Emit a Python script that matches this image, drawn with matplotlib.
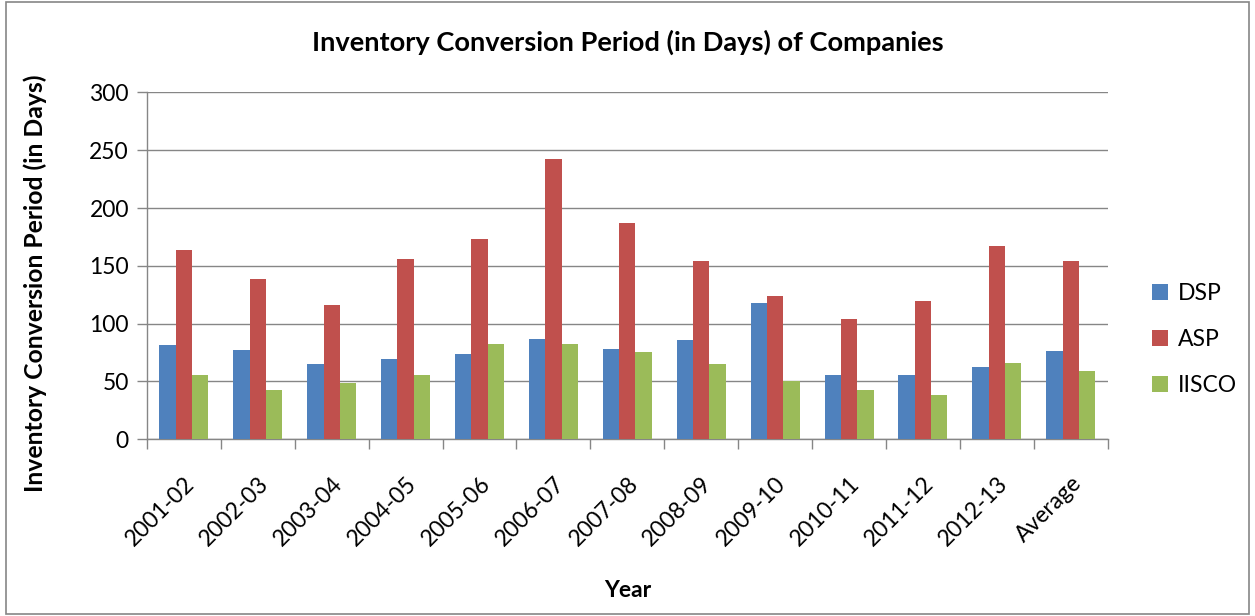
import numpy as np
import matplotlib
matplotlib.use("Agg")
import matplotlib.pyplot as plt
from matplotlib.patches import Rectangle

years = ["2001-02", "2002-03", "2003-04", "2004-05", "2005-06", "2006-07",
         "2007-08", "2008-09", "2009-10", "2010-11", "2011-12", "2012-13", "Average"]
dsp = [81.2, 77.5, 65.1, 69.1, 74.0, 86.7, 78.3, 86.1, 118.1, 55.9, 55.3, 62.5, 76.0]
asp = [164.1, 138.2, 116.3, 156.1, 173.3, 242.7, 187.2, 154.3, 124.1, 103.7, 119.2, 167.0, 153.8]
iisco = [55.9, 42.3, 48.4, 55.9, 82.6, 82.6, 75.4, 65.1, 50.7, 42.3, 38.0, 65.9, 58.7]

series = [("DSP", dsp, "#4F81BD"), ("ASP", asp, "#C0504D"), ("IISCO", iisco, "#9BBB59")]

plt.rcParams["font.family"] = ["Lato", "DejaVu Sans"]
GRID = "#868686"
FS = 16.5

fig = plt.figure(figsize=(12.55, 6.16), dpi=100)
ax = fig.add_axes([0.1171, 0.2868, 0.7655, 0.5633])

x = np.arange(len(years))
w = 0.221
for i, (name, vals, col) in enumerate(series):
    ax.bar(x + (i - 1) * w, vals, width=w, color=col, label=name, zorder=3)

ax.set_xlim(-0.5, len(years) - 0.5)
ax.set_ylim(0, 300)
ax.set_yticks(range(0, 301, 50))
ax.yaxis.grid(True, color=GRID, linewidth=1.0, zorder=0)
ax.set_axisbelow(True)

for s in ["top", "right"]:
    ax.spines[s].set_visible(False)
for s in ["left", "bottom"]:
    ax.spines[s].set_color(GRID)
    ax.spines[s].set_linewidth(1.0)

ax.set_xticks(x)
ax.set_xticklabels(years, rotation=45, ha="right", rotation_mode="anchor", fontsize=FS)
ax.tick_params(axis="x", which="major", length=0, pad=24)
ax.set_xticks(np.arange(-0.5, len(years)), minor=True)
ax.tick_params(axis="x", which="minor", length=7, width=1.0, color=GRID)
ax.tick_params(axis="y", length=7, width=1.0, color=GRID, labelsize=FS, pad=6)

ax.set_xlabel("Year", fontsize=FS, fontweight="bold", labelpad=0)
ax.xaxis.set_label_coords(0.5, -0.405)
ax.set_ylabel("Inventory Conversion Period (in Days)", fontsize=17.8, fontweight="bold")
ax.yaxis.set_label_coords(-0.104, 0.45)

fig.text(0.5, 0.932, "Inventory Conversion Period (in Days) of Companies",
         ha="center", va="center", fontsize=19.6, fontweight="bold")

leg = ax.legend(loc="center left", bbox_to_anchor=(1.025, 0.287), frameon=False,
                fontsize=FS, handlelength=0.7, handleheight=0.7,
                handletextpad=0.4, labelspacing=1.1)

fig.patches.append(Rectangle((0.005, 0.004), 0.99, 0.992, transform=fig.transFigure,
                             fill=False, edgecolor=GRID, linewidth=1.2))

fig.savefig("out.png", dpi=100)
plt.close(fig)
